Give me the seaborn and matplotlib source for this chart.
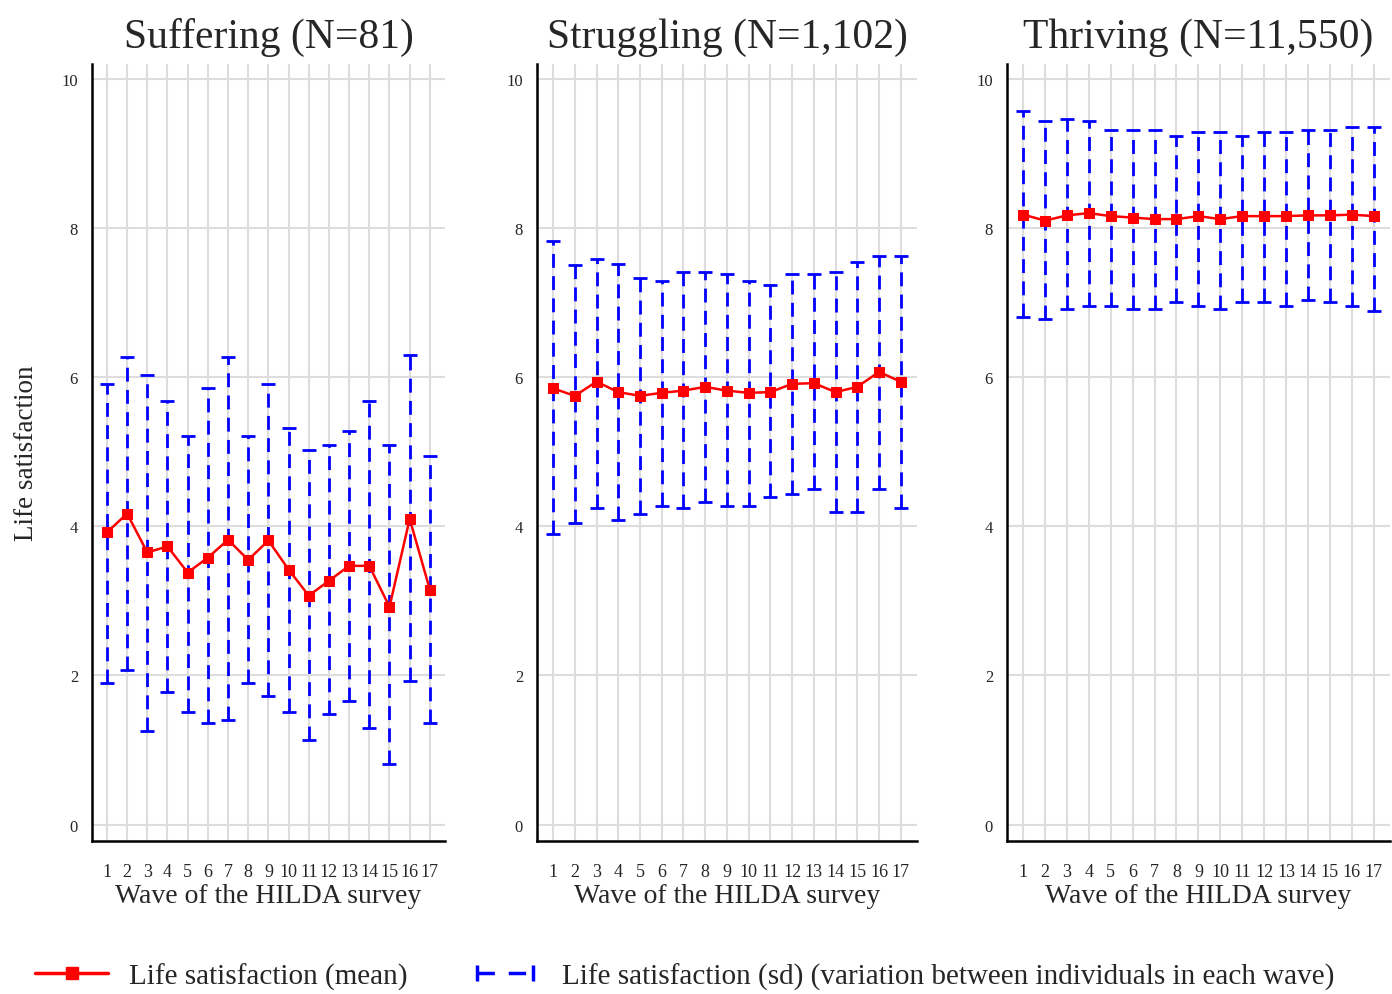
import numpy as np
import pandas as pd
import matplotlib
matplotlib.use('Agg')
import matplotlib.pyplot as plt
import seaborn as sns
from matplotlib.lines import Line2D
from matplotlib.legend_handler import HandlerLine2D

# 데이터
waves = list(range(1, 18))
groups = ['Suffering (N=81)', 'Struggling (N=1,102)', 'Thriving (N=11,550)']

suffering_mean = [3.92, 4.17, 3.65, 3.73, 3.38, 3.58, 3.82, 3.55, 3.81, 3.42, 3.07, 3.27, 3.47, 3.47, 2.92, 4.10, 3.15]
suffering_upper = [5.91, 6.27, 6.03, 5.68, 5.21, 5.85, 6.27, 5.21, 5.91, 5.32, 5.02, 5.09, 5.28, 5.68, 5.09, 6.30, 4.94]
suffering_lower = [1.90, 2.07, 1.25, 1.78, 1.51, 1.36, 1.40, 1.90, 1.72, 1.51, 1.14, 1.48, 1.66, 1.29, 0.81, 1.93, 1.36]

struggling_mean = [5.85, 5.75, 5.94, 5.80, 5.75, 5.79, 5.82, 5.87, 5.82, 5.79, 5.80, 5.91, 5.92, 5.80, 5.87, 6.07, 5.94]
struggling_upper = [7.82, 7.50, 7.59, 7.52, 7.33, 7.29, 7.41, 7.41, 7.38, 7.29, 7.23, 7.39, 7.39, 7.41, 7.55, 7.63, 7.63]
struggling_lower = [3.90, 4.05, 4.24, 4.08, 4.16, 4.27, 4.24, 4.32, 4.27, 4.27, 4.39, 4.43, 4.50, 4.19, 4.19, 4.50, 4.24]

thriving_mean = [8.18, 8.10, 8.17, 8.20, 8.16, 8.14, 8.12, 8.12, 8.16, 8.12, 8.16, 8.16, 8.16, 8.17, 8.17, 8.18, 8.16]
thriving_upper = [9.57, 9.43, 9.46, 9.43, 9.31, 9.31, 9.31, 9.23, 9.29, 9.29, 9.23, 9.29, 9.29, 9.31, 9.31, 9.35, 9.35]
thriving_lower = [6.81, 6.78, 6.92, 6.96, 6.96, 6.92, 6.92, 7.01, 6.96, 6.92, 7.01, 7.01, 6.96, 7.03, 7.01, 6.96, 6.89]

means = [suffering_mean, struggling_mean, thriving_mean]
uppers = [suffering_upper, struggling_upper, thriving_upper]
lowers = [suffering_lower, struggling_lower, thriving_lower]

sns.set_style('white')
plt.rcParams['font.family'] = ['Liberation Serif', 'DejaVu Serif']

fig = plt.figure(figsize=(13.92, 9.95), dpi=100)
lefts = [92, 537, 1007]
widths = [353, 380, 383]
W, H = 1392, 995
top_px, bottom_px = 65, 842

for i in range(3):
    ax = fig.add_axes([lefts[i] / W, 1 - bottom_px / H, widths[i] / W, (bottom_px - top_px) / H])
    df = pd.DataFrame({'wave': waves, 'mean': means[i], 'upper': uppers[i], 'lower': lowers[i]})

    eb = ax.errorbar(df['wave'], df['mean'],
                     yerr=[df['mean'] - df['lower'], df['upper'] - df['mean']],
                     fmt='none', ecolor='blue', elinewidth=2, capsize=5, capthick=2, zorder=3)
    eb[2][0].set_linestyle((0, (5, 3)))

    sns.lineplot(x='wave', y='mean', data=df, ax=ax, color='red', marker='s',
                 markersize=7, markeredgecolor='red', linewidth=1.8, zorder=4)

    ax.set_xlim(0.26, 17.75)
    ax.set_ylim(-0.22, 10.2)
    ax.set_xticks(waves)
    ax.set_xticklabels([str(w) for w in waves], fontsize=13)
    ax.set_yticks([0, 2, 4, 6, 8, 10])
    ax.set_yticklabels(['0', '2', '4', '6', '8', '10'], fontsize=12)
    ax.grid(True, color='#dddddd', linewidth=1.5)
    ax.set_axisbelow(True)
    for s in ['top', 'right']:
        ax.spines[s].set_visible(False)
    for s in ['left', 'bottom']:
        ax.spines[s].set_color('black')
        ax.spines[s].set_linewidth(1.8)
    ax.tick_params(axis='both', direction='out', length=6, width=2, color='black', pad=4)
    ax.tick_params(axis='x', pad=10)
    ax.set_xlabel('Wave of the HILDA survey', fontsize=20, labelpad=2)
    if i == 0:
        ax.set_ylabel('Life satisfaction', fontsize=19.5, labelpad=16)
    else:
        ax.set_ylabel('')
    ax.set_title(groups[i], fontsize=30, pad=12)

handles = [
    Line2D([0], [0], color='red', marker='s', markersize=8, linewidth=2.5),
    Line2D([0], [0], color='blue', linestyle=(0, (5, 4)), linewidth=2.5, marker='|',
           markersize=12, markeredgewidth=2.5),
]
fig.legend(handles, ['Life satisfaction (mean)',
                     'Life satisfaction (sd) (variation between individuals in each wave)'],
           handler_map={handles[1]: HandlerLine2D(numpoints=2)},
           loc='center', bbox_to_anchor=(0.492, 0.018), ncol=2, frameon=False,
           fontsize=21, handlelength=2.5, columnspacing=2.1, handletextpad=0.7,
           borderpad=0.1)

fig.savefig('out.png', dpi=100)
